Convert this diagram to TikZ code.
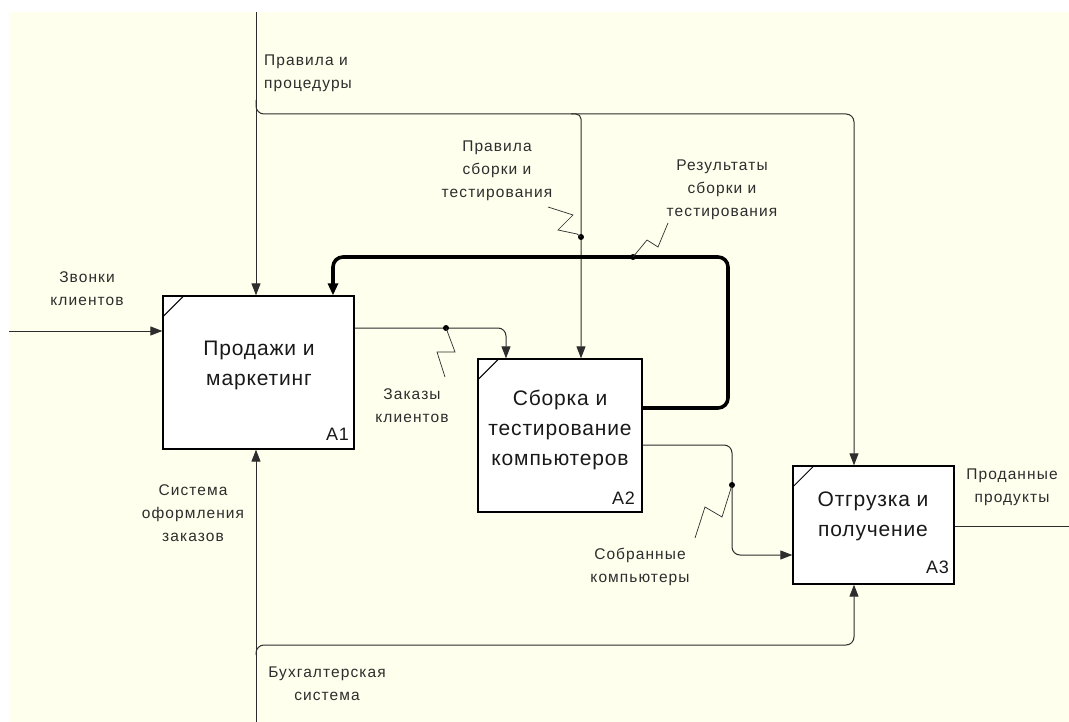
\documentclass[tikz,border=0pt]{standalone}
\usepackage{fontspec}
\setmainfont{Liberation Sans}
\newfontfamily\lblfont[LetterSpace=7]{Liberation Sans}
\newfontfamily\boxfont[LetterSpace=4]{Liberation Sans}
\usetikzlibrary{arrows.meta}
\definecolor{paper}{RGB}{255,255,238}
\definecolor{ink}{RGB}{45,45,45}

\tikzset{
  flow/.style={draw=ink, line width=1pt},
  tip/.style={-{Triangle[length=12pt,width=9pt]}},
  fbline/.style={draw=black, line width=3.6pt, rounded corners=10pt},
  actbox/.style={draw=black, fill=white, line width=1.3pt, inner sep=0pt},
  boxtext/.style={font=\boxfont\fontsize{21}{30}\selectfont, align=center, text=black!90, inner sep=0pt},
  boxnum/.style={font=\boxfont\fontsize{18}{18}\selectfont, anchor=base east, inner sep=0pt, text=black!90},
  lbl/.style={font=\lblfont\fontsize{15.5}{23}\selectfont, align=center, text=ink, inner sep=0pt},
  squig/.style={draw=ink, line width=0.7pt},
  dot/.style={circle, fill=black, inner sep=0pt, minimum size=6pt},
}

\begin{document}
\begin{tikzpicture}[x=1pt, y=-1pt]
  % page and paper
  \useasboundingbox (0,0) rectangle (1069,722);
  \fill[white] (0,0) rectangle (1069,722);
  \fill[paper] (9,12) rectangle (1075,730);

  % activity boxes
  \node[actbox, minimum width=191pt, minimum height=153pt] (A1) at (258.5,372.5) {};
  \node[actbox, minimum width=164pt, minimum height=153pt] (A2) at (560,435.5) {};
  \node[actbox, minimum width=161pt, minimum height=118pt] (A3) at (873.5,525) {};

  \foreach \b in {A1,A2,A3}
    \draw[black, line width=1pt] ([yshift=-22pt]\b.north west) -- ([xshift=22pt]\b.north west);

  \node[boxtext] (A1t) at (259,365) {Продажи и\\маркетинг};
  \node[boxtext] (A2t) at (560,430) {Сборка и\\тестирование\\компьютеров};
  \node[boxtext] (A3t) at (873,516) {Отгрузка и\\получение};

  \node[boxnum] (A1n) at (349,440) {A1};
  \node[boxnum] (A2n) at (635,504) {A2};
  \node[boxnum] (A3n) at (949,573) {A3};

  % input: customer calls
  \coordinate (inS) at (9,331);
  \draw[flow,tip] (inS) -- (inS -| A1.west);

  % control: rules and procedures
  \coordinate (ctrlTop) at (256,12);
  \draw[flow,tip] (ctrlTop) -- (ctrlTop |- A1.north);
  \coordinate (ctrlFork) at (256,100);
  \coordinate (ctrlBend) at (854,114);
  \draw[flow,tip,rounded corners=8pt] (ctrlFork) |- (ctrlBend) -- (ctrlBend |- A3.north);
  \coordinate (ctrlA2) at (581,114);
  \draw[flow,tip,rounded corners=5pt] (571,114) -| (ctrlA2 |- A2.north);

  % feedback: assembly and test results
  \coordinate (fbOut) at (700,408);
  \coordinate (fbR) at (728,257);
  \coordinate (fbL) at (333,257);
  \draw[fbline, -{Triangle[length=12pt,width=10pt]}] (fbOut -| A2.east) -| (fbR) -| (fbL |- A1.north);

  % customer orders
  \coordinate (ordY) at (400,328);
  \coordinate (ordX) at (506,328);
  \draw[flow,tip,rounded corners=8pt] (ordY -| A1.east) -| (ordX |- A2.north);

  % assembled computers
  \coordinate (asmY) at (700,445);
  \coordinate (asmV) at (732,555);
  \draw[flow,tip,rounded corners=8pt] (asmY -| A2.east) -| (asmV) -- (asmV -| A3.west);

  % output: products sold
  \coordinate (outY) at (1000,526);
  \coordinate (outE) at (1069,526);
  \draw[flow] (outY -| A3.east) -- (outE);

  % mechanisms: accounting system
  \coordinate (mechBot) at (256,722);
  \draw[flow,tip] (mechBot) -- (mechBot |- A1.south);
  \coordinate (mechFork) at (256,655);
  \coordinate (mechBend) at (854,645);
  \draw[flow,tip,rounded corners=8pt] (mechFork) |- (mechBend) -- (mechBend |- A3.south);

  % junction dots and label leaders
  \node[dot] (d1) at (446,328) {};
  \node[dot] (d2) at (581,237) {};
  \node[dot] (d3) at (633,257) {};
  \node[dot] (d4) at (732,485) {};
  \coordinate (q1) at (445,377);
  \coordinate (q2) at (548,207);
  \coordinate (q3) at (668,223);
  \coordinate (q4) at (695,538);
  \draw[squig] (d1.center) -- (455,352) -- (437,352) -- (q1);
  \draw[squig] (d2.center) -- (577,234) -- (558,230) -- (573,215) -- (q2);
  \draw[squig] (d3.center) -- (647,240) -- (658,247) -- (q3);
  \draw[squig] (d4.center) -- (722,517) -- (705,507) -- (q4);

  % arrow labels
  \node[lbl] (Lcalls) at (87,289) {Звонки\\клиентов};
  \node[lbl, align=left, anchor=west] (Lrules) at (264,73.5) {Правила и\\процедуры};
  \node[lbl] (Lasmrules) at (497,171) {Правила\\сборки и\\тестирования};
  \node[lbl] (Lresults) at (722,189.5) {Результаты\\сборки и\\тестирования};
  \node[lbl] (Lorders) at (412,406) {Заказы\\клиентов};
  \node[lbl] (Lordsys) at (193,513) {Система\\оформления\\заказов};
  \node[lbl] (Lasm) at (640,567) {Собранные\\компьютеры};
  \node[lbl] (Lsold) at (1012,487) {Проданные\\продукты};
  \node[lbl] (Lacc) at (327,684) {Бухгалтерская\\система};
\end{tikzpicture}
\end{document}
